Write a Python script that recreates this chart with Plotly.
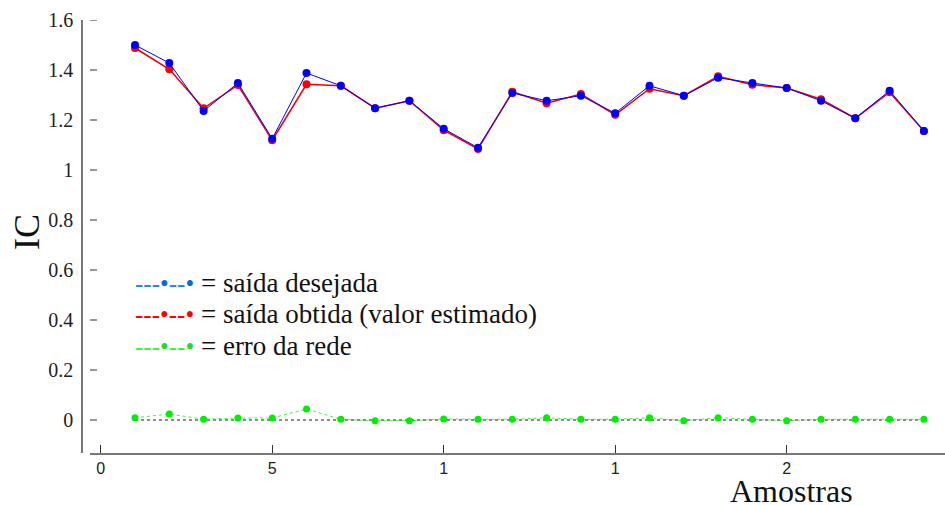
import plotly.graph_objects as go

samples = list(range(1, 25))
desejada = [1.500, 1.428, 1.236, 1.348, 1.125, 1.388, 1.337, 1.247, 1.277, 1.165, 1.089, 1.308,
            1.277, 1.297, 1.227, 1.337, 1.297, 1.369, 1.348, 1.328, 1.277, 1.207, 1.317, 1.156]
obtida = [1.488, 1.403, 1.247, 1.340, 1.119, 1.343, 1.337, 1.247, 1.277, 1.159, 1.084, 1.313,
          1.267, 1.304, 1.221, 1.325, 1.297, 1.375, 1.341, 1.328, 1.283, 1.207, 1.311, 1.156]
erro = [0.009, 0.024, 0.003, 0.008, 0.008, 0.044, 0.003, -0.003, -0.003, 0.004, 0.003, 0.003,
        0.009, 0.003, 0.003, 0.009, -0.003, 0.009, 0.003, -0.003, 0.003, 0.003, 0.003, 0.003]
zero_line = [0 for _ in samples]

x_tickvals = [0, 5, 10, 15, 20]
x_ticktext = ["0", "5", "1", "1", "2"]
y_tickvals = [0, 0.2, 0.4, 0.6, 0.8, 1, 1.2, 1.4, 1.6]
y_ticktext = ["0", "0.2", "0.4", "0.6", "0.8", "1", "1.2", "1.4", "1.6"]

legend_rows = [
    ("#2a7fff", "#0a6ad0", "= saída desejada"),
    ("#ff0000", "#ff0000", "= saída obtida (valor estimado)"),
    ("#44ee44", "#22dd22", "= erro da rede"),
]

W, H = 945, 505
MT, MB = 20, 52
PH = H - MT - MB
serif = "Liberation Serif, Times New Roman, serif"


def px_x(px):
    return px / W


def px_y(py):
    return 1 - (py - MT) / PH


fig = go.Figure()
fig.add_trace(go.Scatter(x=samples, y=zero_line, mode="lines",
                         line=dict(color="#666666", width=1.5, dash="dot")))
fig.add_trace(go.Scatter(x=samples, y=erro, mode="lines+markers",
                         line=dict(color="#44ee44", width=1, dash="dot"),
                         marker=dict(color="#00ee00", size=7)))
fig.add_trace(go.Scatter(x=samples, y=obtida, mode="lines+markers",
                         line=dict(color="#ee0000", width=1.5),
                         marker=dict(color="#ff0000", size=8)))
fig.add_trace(go.Scatter(x=samples, y=desejada, mode="lines+markers",
                         line=dict(color="#0000ff", width=1),
                         marker=dict(color="#0000ff", size=8)))

shapes = []
for v in y_tickvals:
    shapes.append(dict(type="line", xref="paper", yref="y", x0=px_x(90), x1=px_x(97), y0=v, y1=v,
                       line=dict(color="#777777", width=1.5)))

annotations = []
row_y = [283, 314, 346]
for (dash_col, dot_col, label), py in zip(legend_rows, row_y):
    txt = (f'<span style="font-size:25px"><span style="color:{dash_col}">---</span>'
           f'<span style="color:{dot_col}">•</span>'
           f'<span style="color:{dash_col}">--</span><span style="color:{dot_col}">•</span></span> {label}')
    annotations.append(dict(text=txt, xref="paper", yref="paper", x=px_x(133), y=px_y(py),
                            xanchor="left", yanchor="middle", showarrow=False,
                            font=dict(family=serif, size=27, color="#111111")))
annotations.append(dict(text="IC", xref="paper", yref="paper", x=px_x(27), y=px_y(232),
                        textangle=-90, showarrow=False, xanchor="center", yanchor="middle",
                        font=dict(family=serif, size=36, color="#111111")))
annotations.append(dict(text="Amostras", xref="paper", yref="paper", x=px_x(791), y=px_y(491),
                        showarrow=False, xanchor="center", yanchor="middle",
                        font=dict(family=serif, size=32, color="#111111")))

x0px = 100.7
xs = 34.3
fig.update_layout(
    width=W, height=H,
    margin=dict(l=0, r=0, t=MT, b=MB, autoexpand=False),
    paper_bgcolor="white", plot_bgcolor="white",
    showlegend=False,
    shapes=shapes,
    annotations=annotations,
    xaxis=dict(domain=[90 / W, 1], range=[(90 - x0px) / xs, (945 - x0px) / xs],
               tickvals=x_tickvals, ticktext=x_ticktext, automargin=False,
               ticks="inside", ticklen=8, tickcolor="#333333", tickwidth=1.2,
               showline=True, linecolor="#777777", linewidth=1.5,
               showgrid=False, zeroline=False,
               tickfont=dict(family="Liberation Sans, Arial, sans-serif", size=16, color="#222222")),
    yaxis=dict(range=[-0.132, 1.6], anchor="free", position=82 / W, automargin=False,
               tickvals=y_tickvals, ticktext=y_ticktext, ticks="",
               showline=True, linecolor="#777777", linewidth=1.5,
               showgrid=False, zeroline=False, ticklabelstandoff=4,
               tickfont=dict(family=serif, size=20, color="#222222")),
)

fig.write_html("out.html", config={"displayModeBar": False},
               post_script="document.body.style.margin='0';")
